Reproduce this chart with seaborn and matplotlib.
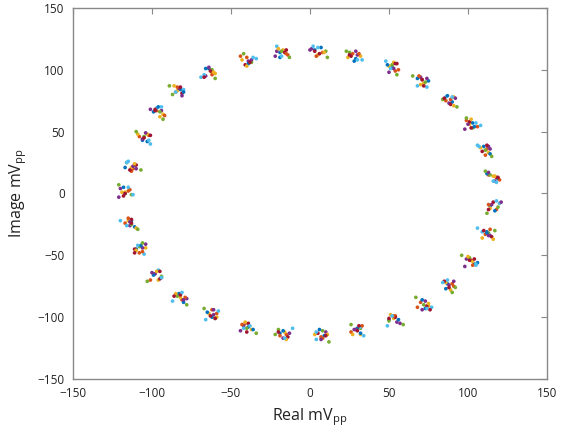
import matplotlib
matplotlib.use("Agg")
import matplotlib.pyplot as plt
import seaborn as sns
import pandas as pd

# Cluster centres (mV_pp)
centers_x = [5, 28, 52, 71, 88, 102, 111, 116, 116, 112, 102, 88, 72, 53, 30, 7,
             -17, -40, -62, -82, -97, -108, -114, -117, -113, -105, -96, -83, -64, -40, -18]
centers_y = [115, 111, 102, 91, 75, 56, 35, 13, -10, -33, -55, -74, -90, -102, -111, -114,
             -114, -108, -98, -84, -67, -45, -24, 1, 22, 45, 66, 83, 98, 107, 114]

# Per-measurement deviations from each cluster centre (estimated)
dx = [
    [-2, 1, 0, -3, 2, 1, -1, 3, -2, 0, 2, -1, 1, -3, 0, 2, -2, 1, 0, -1, 3, -2, 1, 0, 2, -1, -3, 1, 0, 2, -1],
    [3, -1, 2, 0, -2, 4, 1, -3, 2, -1, 0, 3, -2, 1, -4, 0, 2, -1, 3, 1, -2, 0, -3, 2, 1, 3, -1, -2, 2, 0, 4],
    [0, 4, -2, 1, 3, -1, 2, 0, 4, -3, 1, -2, 3, 0, 2, -4, 1, 3, -2, 0, 1, 4, -1, -2, 0, 2, 3, -1, 4, -3, 1],
    [-4, 2, 1, -1, 0, -2, 3, 1, -1, 2, -3, 0, 1, 2, -1, 3, 0, -2, 1, 4, -1, 2, 0, -3, 1, -1, 2, 0, -2, 1, -3],
    [5, -3, 0, 2, -4, 1, 0, -2, 3, 1, -1, 4, 0, -3, 2, 1, -5, 0, 2, -2, 3, 0, 1, 4, -3, 0, 1, -4, 2, 3, 0],
    [-3, 5, -4, 3, -2, 6, -5, 2, 4, -6, 3, -1, 5, -4, 2, -3, 6, -2, 4, -5, 1, 3, -6, 5, -2, 4, -1, 3, -5, 6, -3],
    [1, -2, 3, 0, 1, -1, -2, 2, 0, 3, -1, -3, 2, 1, 0, -2, 3, 1, -1, 0, 2, -3, 1, -1, 3, 0, -2, 2, 1, -1, 2],
    [2, 0, -3, 4, -1, 2, 3, -4, 1, 0, 4, -2, -1, 3, 2, -1, 0, 4, -3, 2, -2, 1, 3, -1, -4, 2, 0, 3, -2, 1, -1],
    [-1, 3, 4, -2, 1, -3, 0, 4, -3, 2, 1, 2, -4, 0, 3, 1, -2, -3, 0, 3, -4, 2, -1, 3, 0, -3, 4, -1, 2, -4, 3],
    [4, -4, 1, -1, 3, 0, -3, 1, -2, 4, -2, 1, 3, -2, -3, 4, 2, -1, 3, -3, 0, -2, 4, 0, 2, -4, 1, -3, 3, 0, -2],
    [-5, 1, -2, 3, 4, -4, 2, -3, 5, 1, -4, 3, -1, 4, -2, 0, 4, -4, 1, 2, -3, 4, 0, -4, 3, 1, -5, 2, 0, 3, -4],
    [6, -5, 3, -6, 5, -3, 4, -5, -4, 5, -6, 2, -5, 6, -4, 5, -3, 6, -5, 4, -6, 2, 5, -4, 6, -5, 3, -6, 4, -2, 5],
    [0, 2, -1, -3, 2, 3, -4, 0, 2, -3, 3, -4, 2, -1, 4, -3, 1, 2, -4, 1, 3, -1, -2, 2, -3, 3, 2, -2, -3, 4, 0],
    [-2, -3, 2, 1, -3, 0, 1, 3, -3, -2, 2, 0, 4, -3, 1, 3, -3, 0, 2, -4, 2, -3, 1, 0, -1, 4, -2, 1, -3, 2, 3],
]
dy = [
    [1, -2, 0, 2, -1, 1, 3, -1, 0, 2, -2, 1, -3, 0, 2, -1, 1, 0, -2, 3, -1, 0, 2, -1, 1, -2, 0, 1, 3, -1, 0],
    [-1, 2, -3, 1, 0, -2, 1, 2, -3, 0, 1, -1, 2, 3, -1, -2, 0, 3, 1, -2, 2, -3, 0, 1, -2, 2, 1, -1, 0, 3, -2],
    [-3, 0, 1, -2, 3, 0, -2, 1, 2, -3, 0, 2, -1, 1, -3, 0, 2, -2, 1, 0, -3, 1, 2, 0, -1, 3, -2, 0, -1, 1, 2],
    [2, 1, -1, 3, -2, 0, 1, -3, 1, -1, 2, 0, 3, -2, 1, 2, -3, 1, 0, -1, 2, 1, -2, 3, 0, -1, 1, 2, -3, 0, 1],
    [0, 3, 2, -1, 1, -3, 0, 2, -1, 1, 3, -2, 0, -1, 2, 3, 0, -1, -3, 1, 0, 2, -1, -2, 3, 1, 0, -3, 2, -1, 1],
    [4, -3, 5, -5, 3, -1, 4, -4, 2, 5, -3, 4, -2, -5, 3, -4, 5, -1, 3, -3, 5, -4, 2, -2, 4, -5, 3, 1, -4, 2, 5],
    [-2, 0, 3, 1, -3, 2, -1, 0, 3, -2, 1, 3, -1, 2, 0, 1, -2, 3, -1, 2, -2, 0, 3, -3, 1, 0, 2, -2, 1, -3, 0],
    [3, -4, 2, 0, 4, -2, -3, 3, -4, 1, -1, -3, 4, 0, -2, 4, 3, -2, 2, -4, 1, 3, -3, 4, -1, -3, 4, -1, 3, -2, -4],
    [-4, 2, -2, 4, 1, 3, -4, -2, 1, 4, -3, 1, -2, 3, 4, -3, -1, 2, 4, 0, -3, -2, 4, 2, -4, 1, -3, 3, -2, 4, -1],
    [-1, -1, 4, -3, -4, 4, 2, 1, -2, -4, 4, -4, 1, 4, -3, 0, -4, 4, -2, 3, 4, -1, -4, 0, 2, 3, -4, 4, 0, -4, 3],
    [1, 4, -4, 2, 2, -4, 3, 4, 3, -1, -4, 3, -4, -3, 1, -4, 1, -3, 4, -2, 3, 4, 1, -4, -2, 4, 2, -4, 4, 1, -3],
    [-5, 4, -6, 4, -5, 5, -5, 5, -6, 3, 5, -6, 6, -4, 5, -6, 4, -5, 5, -6, -4, 5, -5, 6, -3, 5, -6, 4, -5, 6, -4],
    [3, -3, -1, -4, 3, 1, 3, -3, 4, 2, -2, 2, -3, 3, -4, 2, -3, 1, -4, 4, -1, 3, -2, 4, 3, -2, 4, -1, -2, 3, -3],
    [0, 1, 3, -4, 2, -3, 4, 0, -3, 3, 2, -2, -4, 1, 4, -1, 2, -4, -3, 1, 4, -3, 0, -1, -3, 2, 1, 3, -4, -1, 2],
]

series_colors = ["#0072BD", "#D95319", "#EDB120", "#7E2F8E", "#77AC30", "#4DBEEE", "#A2142F"]
x_ticks = [-150, -100, -50, 0, 50, 100, 150]
y_ticks = [-150, -100, -50, 0, 50, 100, 150]

rows = []
for s in range(len(dx)):
    for k in range(len(centers_x)):
        rows.append({"series": s,
                     "real": centers_x[k] + dx[s][k],
                     "imag": centers_y[k] + dy[s][k]})
df = pd.DataFrame(rows)

sns.set_style("white")
plt.rcParams["font.family"] = ["Open Sans", "DejaVu Sans"]
plt.rcParams["mathtext.fontset"] = "custom"
plt.rcParams["mathtext.rm"] = "Open Sans"
plt.rcParams["mathtext.it"] = "Open Sans"

fig = plt.figure(figsize=(5.67, 4.33), dpi=100)
ax = fig.add_axes([0.1287, 0.1247, 0.836, 0.857])

palette = [series_colors[i % len(series_colors)] for i in range(len(dx))]
sns.scatterplot(data=df, x="real", y="imag", hue="series", palette=palette,
                marker="o", s=7, linewidth=0, legend=False, ax=ax)

ax.set_xlim(-150, 150)
ax.set_ylim(-150, 150)
ax.set_xticks(x_ticks)
ax.set_yticks(y_ticks)
ax.tick_params(direction="in", length=4, width=0.8, color="#888888",
               labelsize=8.5, labelcolor="#222222", top=True, right=True,
               labeltop=False, labelright=False, pad=6)
for sp in ax.spines.values():
    sp.set_color("#888888")
    sp.set_linewidth(1.0)

ax.set_xlabel(r"Real mV$_{\mathrm{pp}}$", fontsize=11.5, color="#222222", labelpad=4)
ax.set_ylabel(r"Image mV$_{\mathrm{pp}}$", fontsize=11.5, color="#222222", labelpad=6)

fig.savefig("out.png", dpi=100)
